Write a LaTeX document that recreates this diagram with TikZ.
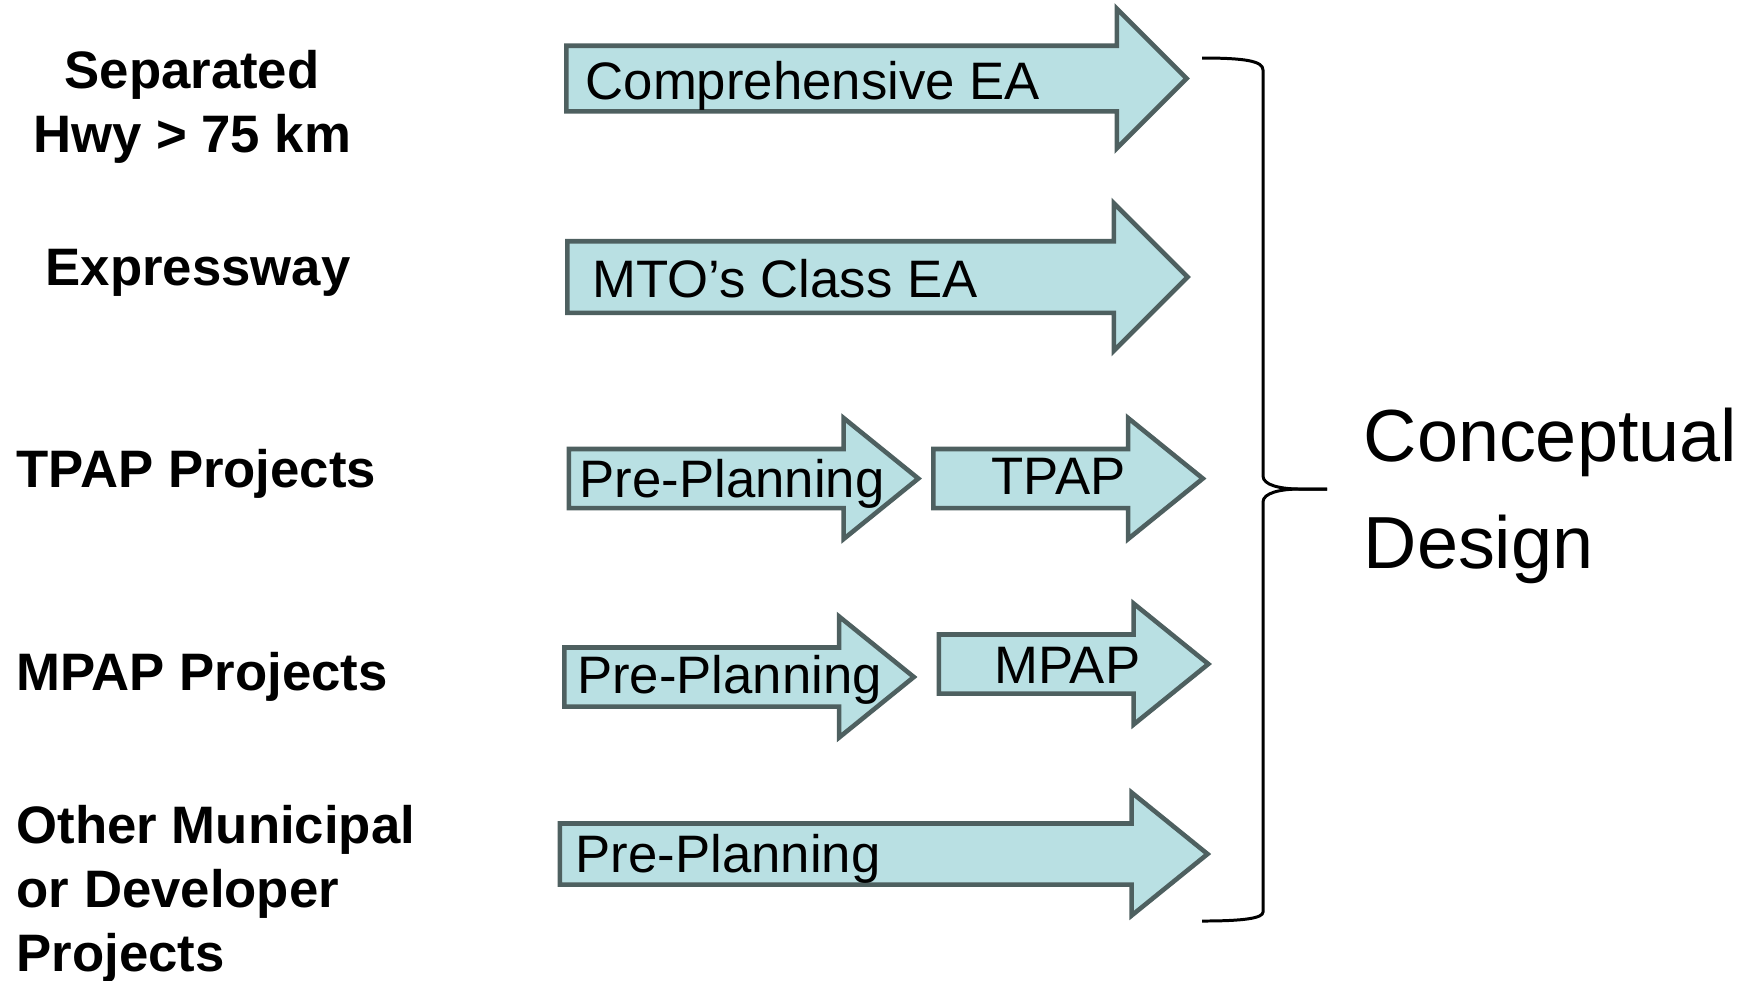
\documentclass[tikz,border=0pt]{standalone}
\usepackage{fontspec}
\setmainfont{Liberation Sans}
\usetikzlibrary{shapes.arrows}
\definecolor{arrowfill}{HTML}{B9E0E3}
\definecolor{arrowline}{HTML}{4E6060}
\tikzset{
	stage/.style     = {shape=single arrow, draw=arrowline, fill=arrowfill,
		line width=1.3pt, inner sep=0pt, anchor=tail,
		text depth=0pt, text height=0.545cm,
		single arrow head extend=0.31cm,
		single arrow tip angle=78},
	widestage/.style = {stage, single arrow tip angle=90},
	stagetext/.style = {anchor=base west, inner sep=0pt,
		font=\fontsize{15pt}{18pt}\selectfont},
	rowtitle/.style  = {inner sep=0pt,
		font=\fontsize{15pt}{18.1pt}\selectfont\bfseries},
	outcome/.style   = {inner sep=0pt, align=left,
		font=\fontsize{21pt}{30.4pt}\selectfont},
	bracket/.style   = {draw=black, line width=0.85pt}
}

\begin{document}
\begin{tikzpicture}
	\useasboundingbox (0,0) rectangle (17.52,-9.80);
	\node [widestage, text width=5.83cm, text height=0.61cm, single arrow head extend=0.37cm] at (5.64,-0.785) (ce) {};
	\node [widestage, text width=5.80cm, text height=0.67cm, single arrow head extend=0.38cm] at (5.65,-2.77) (mto) {};
	\node [stage, text width=3.085cm] at (5.665,-4.785) (preA) {};
	\node [stage, text width=2.285cm] at (9.31,-4.785) (tpap) {};
	\node [stage, text width=3.085cm] at (5.62,-6.77) (preB) {};
	\node [stage, text width=2.285cm] at (9.365,-6.64) (mpap) {};
	\node [stage, text width=6.055cm, text height=0.565cm] at (5.575,-8.54) (preC) {};

	\node [stagetext] at ([shift={(0.21,-0.21)}]ce.tail) (cetext) {Comprehensive EA};
	\node [stagetext] at ([shift={(0.27,-0.20)}]mto.tail) (mtotext) {MTO’s Class EA};
	\node [stagetext] at ([shift={(0.125,-0.19)}]preA.tail) (preAtext) {Pre-Planning};
	\node [stagetext] at ([shift={(0.60,-0.155)}]tpap.tail) (tpaptext) {TPAP};
	\node [stagetext] at ([shift={(0.145,-0.16)}]preB.tail) (preBtext) {Pre-Planning};
	\node [stagetext] at ([shift={(0.575,-0.19)}]mpap.tail) (mpaptext) {MPAP};
	\node [stagetext] at ([shift={(0.175,-0.18)}]preC.tail) (preCtext) {Pre-Planning};

	\node [rowtitle, align=center, anchor=north] at (1.92,-0.50) (sep) {Separated\\Hwy > 75 km};
	\node [rowtitle, anchor=base west] at (0.45,-2.85) (expr) {Expressway};
	\node [rowtitle, anchor=base west] at (0.16,-4.87) (tpaprow) {TPAP Projects};
	\node [rowtitle, anchor=base west] at (0.16,-6.905) (mpaprow) {MPAP Projects};
	\node [rowtitle, align=left, anchor=north west] at (0.16,-8.05) (other) {Other Municipal\\or Developer\\Projects};

	\node [outcome, anchor=north west] at (13.63,-4.07) (concept) {Conceptual\\Design};

	\coordinate (btop) at (12.02,-0.58);
	\coordinate (btip) at (13.27,-4.89);
	\coordinate (bbot) at (12.02,-9.21);
	\draw [bracket] (btop) .. controls (12.45,-0.58) and (12.63,-0.61) .. (12.63,-0.70) -- (12.63,-4.76) .. controls (12.63,-4.85) and (12.80,-4.89) .. (13.0,-4.89) -- (btip);
	\draw [bracket] (btip) -- (13.0,-4.89) .. controls (12.80,-4.89) and (12.63,-4.93) .. (12.63,-5.02) -- (12.63,-9.12) .. controls (12.63,-9.18) and (12.45,-9.21) .. (bbot);
\end{tikzpicture}
\end{document}
